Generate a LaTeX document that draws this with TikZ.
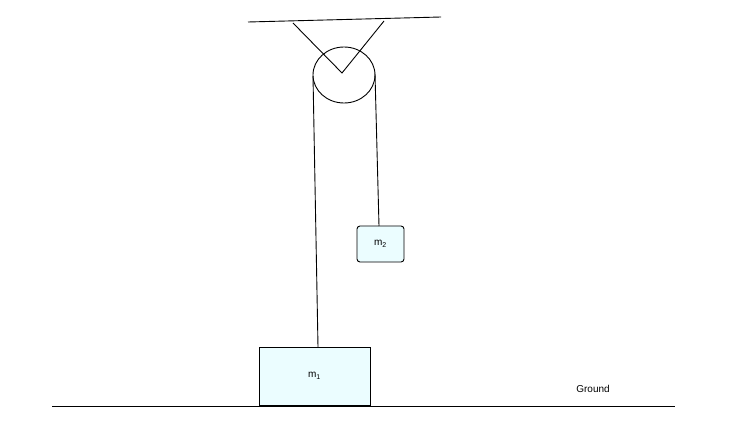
\documentclass[tikz,border=0pt]{standalone}
\usepackage{fontspec}
\setmainfont{Liberation Sans}
\usetikzlibrary{shapes.geometric}
\begin{document}
\begin{tikzpicture}[x=1pt,y=-1pt,
  line/.style={black,line width=0.9pt},
  mass/.style={draw=black,line width=0.9pt,fill=blue!12!cyan!8!white,inner sep=0pt,font=\fontsize{10}{12}\selectfont}]
\useasboundingbox (0,0) rectangle (738,438);
\draw[line] (248,22) -- (441,17);
\draw[line] (293,23) -- (342,73) -- (384,21);
\node[draw,line width=0.9pt,ellipse,minimum width=62pt,minimum height=56pt,inner sep=0pt] (pulley) at (344,75) {};
\node[mass,rounded corners=3pt,minimum width=47pt,minimum height=36pt] (m2) at (380.5,244) {m\textsubscript{2}};
\node[mass,minimum width=111pt,minimum height=58pt] (m1) at (314.5,376) {m\textsubscript{1}};
\coordinate (lt) at (313,76);
\coordinate (rt) at (375,74);
\draw[line] (lt) -- (318,347);
\draw[line] (rt) -- (379,226);
\draw[line] (52,406) -- (675,406);
\node[font=\fontsize{10}{12}\selectfont] (g) at (593,389) {Ground};
\end{tikzpicture}
\end{document}
